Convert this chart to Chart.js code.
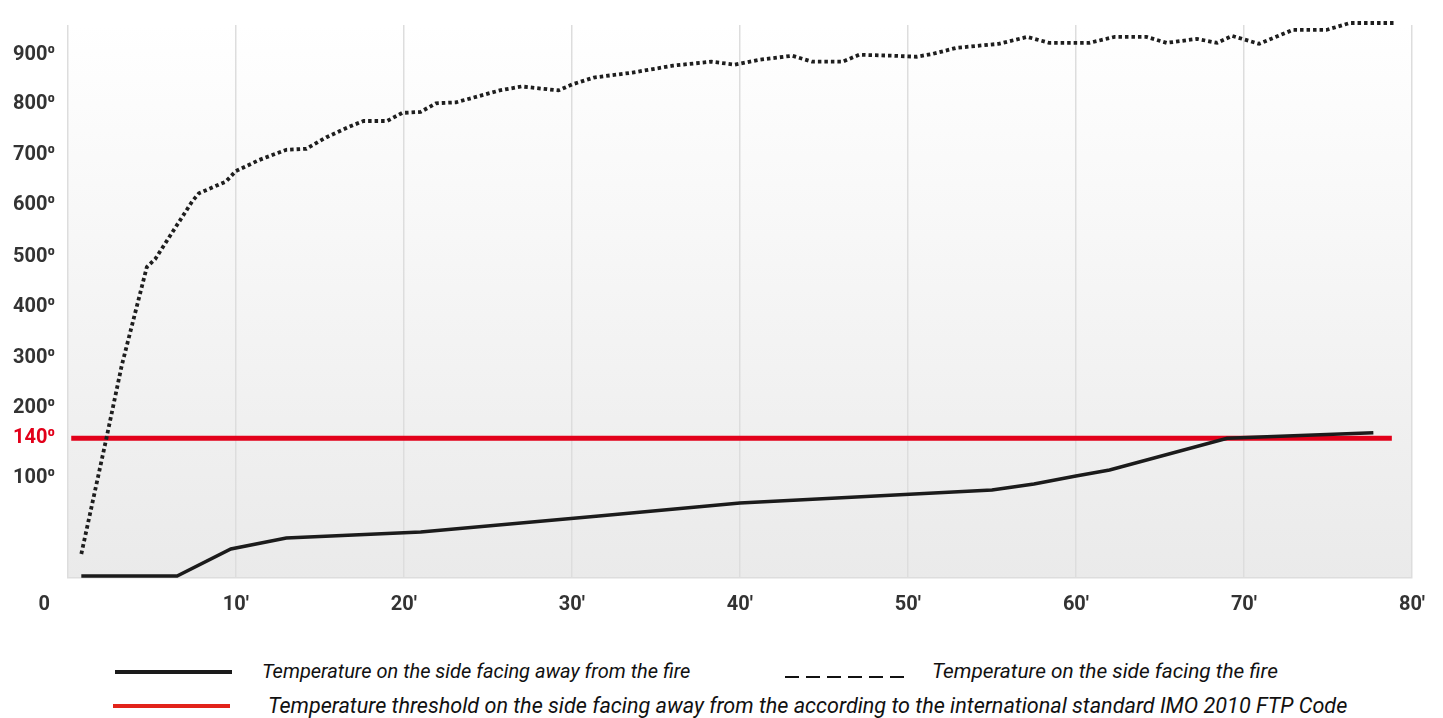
<!DOCTYPE html>
<html>
<head>
<meta charset="utf-8">
<script src="https://cdn.jsdelivr.net/npm/chart.js@4.4.1/dist/chart.umd.min.js"></script>
<style>
  html, body { margin: 0; padding: 0; background: #ffffff; }
  body { width: 1443px; height: 718px; position: relative; overflow: hidden; font-family: 'Roboto', 'Noto Sans', sans-serif; }
  #wrap { position: absolute; left: 0; top: 0; width: 1443px; height: 640px; }
  .leg-line { position: absolute; height: 4px; }
  .leg-text { position: absolute; font-style: italic; color: #111; white-space: nowrap; line-height: 1; }
</style>
</head>
<body>
<div id="wrap"><canvas id="c"></canvas></div>

<div class="leg-line" style="left:115px; top:670px; width:117px; background:#1b1b1b;"></div>
<div class="leg-text" id="l1" style="left:262px; top:661px; font-size:20px;">Temperature on the side facing away from the fire</div>
<div class="leg-line" style="left:785px; top:676px; width:120px; height:2px; background:repeating-linear-gradient(to right, #111 0 14px, transparent 14px 21px);"></div>
<div class="leg-text" id="l2" style="left:932px; top:661px; font-size:20.8px;">Temperature on the side facing the fire</div>
<div class="leg-line" style="left:113px; top:704px; width:117px; background:#e2231a;"></div>
<div class="leg-text" id="l3" style="left:268px; top:695px; font-size:21.6px;">Temperature threshold on the side facing away from the according to the international standard IMO 2010 FTP Code</div>

<script>
// ---- data ----
const awayMinutes = [0.8, 6.5, 9.7, 13.0, 21.0, 31.6, 40.0, 55.0, 57.5, 60.0, 62.0, 69.0, 77.7];
const awayTemps   = [2, 2, 29, 40, 46, 62, 75, 88, 94, 102, 108, 140, 151];

const fireMinutes = [0.8, 2.3, 3.2, 4.7, 5.2, 7.4, 7.8, 9.4, 10.0, 11.4, 13.0, 14.2, 15.4, 16.7, 17.6, 19.0, 19.9, 21.0, 21.9, 23.1, 25.7, 27.0, 29.2, 30.0, 31.3, 33.6, 36.0, 38.3, 39.7, 41.2, 43.1, 44.3, 46.1, 47.1, 49.1, 50.5, 51.5, 52.9, 55.4, 57.1, 58.4, 60.8, 62.3, 64.2, 65.4, 67.2, 68.4, 69.3, 70.9, 72.9, 74.9, 76.3, 78.9];
const fireTemps   = [24, 141, 284, 480, 496, 608, 624, 647, 668, 690, 710, 712, 735, 755, 767, 767, 783, 785, 802, 804, 828, 836, 828, 840, 854, 864, 878, 886, 880, 890, 898, 886, 886, 900, 898, 896, 902, 914, 922, 936, 924, 924, 936, 936, 924, 932, 924, 938, 922, 950, 950, 964, 964];

const thresholdMinutes = [0.2, 78.8];
const thresholdTemps   = [140, 140];

const yTickValues = [100, 140, 200, 300, 400, 500, 600, 700, 800, 900];
const xTickValues = [0, 10, 20, 30, 40, 50, 60, 70, 80];

// ---- non-linear (piecewise) temperature axis of the original ----
const Y_ANCHORS   = [0, 100, 140, 200, 300, 400, 500, 600, 700, 800, 900, 960];
const Y_FRACTIONS = [0, 0.181, 0.2527, 0.3082, 0.3978, 0.4892, 0.5806, 0.6738, 0.7652, 0.8566, 0.9462, 1];

function interp(v, xs, ys) {
  if (v <= xs[0]) return ys[0] + (v - xs[0]) * (ys[1] - ys[0]) / (xs[1] - xs[0]);
  for (let i = 1; i < xs.length; i++) {
    if (v <= xs[i]) return ys[i-1] + (v - xs[i-1]) * (ys[i] - ys[i-1]) / (xs[i] - xs[i-1]);
  }
  const n = xs.length - 1;
  return ys[n] + (v - xs[n]) * (ys[n] - ys[n-1]) / (xs[n] - xs[n-1]);
}

class PiecewiseScale extends Chart.LinearScale {
  buildTicks() { return yTickValues.map(v => ({ value: v })); }
  getPixelForValue(value) { return this.getPixelForDecimal(interp(value, Y_ANCHORS, Y_FRACTIONS)); }
  getValueForPixel(pixel) { return interp(this.getDecimalForPixel(pixel), Y_FRACTIONS, Y_ANCHORS); }
}
PiecewiseScale.id = 'piecewise';
PiecewiseScale.defaults = Chart.LinearScale.defaults;
Chart.register(PiecewiseScale);

const toPoints = (xs, ys) => xs.map((x, i) => ({ x: x, y: ys[i] }));

const RED = '#e2001a';
const AXIS_FONT = { family: 'Roboto', size: 20, weight: 'bold' };

const bgPlugin = {
  id: 'bg',
  beforeDraw(chart) {
    const { ctx, chartArea: a } = chart;
    const g = ctx.createLinearGradient(0, a.top, 0, a.bottom);
    g.addColorStop(0, '#ffffff');
    g.addColorStop(1, '#eaeaea');
    ctx.save();
    ctx.fillStyle = g;
    ctx.fillRect(a.left, a.top, a.right - a.left, a.bottom - a.top);
    ctx.restore();
  },
  afterDraw(chart) {
    const { ctx, chartArea: a } = chart;
    ctx.save();
    ctx.font = 'bold 20px Roboto';
    ctx.fillStyle = '#333333';
    ctx.textAlign = 'right';
    ctx.textBaseline = 'middle';
    ctx.fillText('0', a.left - 18, a.bottom + 27);
    ctx.restore();
  }
};

new Chart(document.getElementById('c'), {
  type: 'line',
  data: {
    datasets: [
      {
        label: 'Temperature on the side facing away from the fire',
        data: toPoints(awayMinutes, awayTemps),
        borderColor: '#1b1b1b', borderWidth: 3.5, pointRadius: 0, tension: 0, order: 1, clip: false
      },
      {
        label: 'Temperature on the side facing the fire',
        data: toPoints(fireMinutes, fireTemps),
        borderColor: '#1e1e1e', borderWidth: 3.8, borderDash: [3.5, 3], pointRadius: 0, tension: 0, order: 2, clip: false
      },
      {
        label: 'Temperature threshold',
        data: toPoints(thresholdMinutes, thresholdTemps),
        borderColor: RED, borderWidth: 5, pointRadius: 0, order: 3, clip: false
      }
    ]
  },
  options: {
    responsive: true,
    maintainAspectRatio: false,
    animation: false,
    layout: { padding: { left: 0, right: 31, top: 11, bottom: 8 } },
    plugins: { legend: { display: false }, tooltip: { enabled: false } },
    scales: {
      x: {
        type: 'linear', min: 0, max: 80,
        afterBuildTicks(scale) { scale.ticks = xTickValues.map(v => ({ value: v })); },
        grid: { color: '#dddddd', lineWidth: 1.5, drawTicks: false },
        border: { display: true, color: '#dddddd', width: 1.5 },
        ticks: {
          padding: 15, color: '#333333', font: AXIS_FONT, autoSkip: false, maxRotation: 0,
          callback: v => v === 0 ? '' : v + "'"
        }
      },
      y: {
        type: 'piecewise', min: 0, max: 960,
        grid: { display: false, drawTicks: false },
        border: { display: false },
        ticks: {
          padding: 13, autoSkip: false, font: AXIS_FONT,
          color: c => (c.tick && c.tick.value === 140) ? RED : '#333333',
          callback: v => v + '\u2070'
        }
      }
    }
  },
  plugins: [bgPlugin]
});
</script>
</body>
</html>
